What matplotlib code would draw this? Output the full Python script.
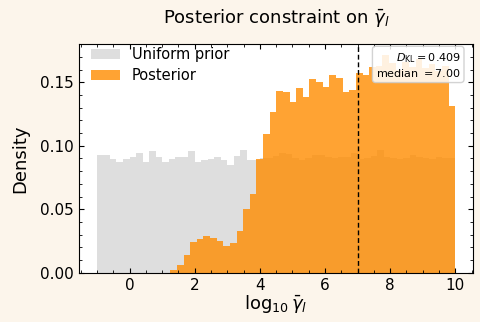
import numpy as np
import matplotlib
matplotlib.use("Agg")
import matplotlib.pyplot as plt
from matplotlib.ticker import MultipleLocator, AutoMinorLocator

# Histogram bin ranges (log10 gamma_l)
prior_range = (-1.0, 10.0)
prior_nbins = 55
post_range = (1.25, 10.0)
post_nbins = 43

# Uniform prior density per bin
prior_density = [
    0.0927, 0.0927, 0.0893, 0.0870, 0.0893, 0.0913, 0.0945, 0.0874, 0.0958, 0.0913,
    0.0874, 0.0893, 0.0913, 0.0910, 0.0960, 0.0874, 0.0890, 0.0895, 0.0913, 0.0890,
    0.0850, 0.0920, 0.0970, 0.0890, 0.0890, 0.0900, 0.0905, 0.0920, 0.0940, 0.0935,
    0.0905, 0.0890, 0.0905, 0.0930, 0.0925, 0.0910, 0.0905, 0.0910, 0.0915, 0.0940,
    0.0895, 0.0905, 0.0920, 0.0970, 0.0915, 0.0905, 0.0895, 0.0905, 0.0930, 0.0915,
    0.0905, 0.0895, 0.0910, 0.0905, 0.0900,
]

# Posterior density per bin
post_density = [
    0.0020, 0.0060, 0.0140, 0.0244, 0.0265, 0.0289, 0.0270, 0.0250, 0.0213, 0.0231,
    0.0330, 0.0500, 0.0617, 0.0893, 0.1090, 0.1268, 0.1430, 0.1425, 0.1347, 0.1457,
    0.1380, 0.1525, 0.1500, 0.1465, 0.1560, 0.1530, 0.1425, 0.1440, 0.1570, 0.1557,
    0.1620, 0.1630, 0.1715, 0.1650, 0.1600, 0.1660, 0.1620, 0.1680, 0.1610, 0.1640,
    0.1590, 0.1630, 0.1315,
]

d_kl = 0.409
median = 7.00

prior_edges = np.linspace(prior_range[0], prior_range[1], prior_nbins + 1)
post_edges = np.linspace(post_range[0], post_range[1], post_nbins + 1)

fig = plt.figure(figsize=(4.8, 3.22), dpi=100, facecolor="#fcf5eb")
ax = fig.add_axes([0.1646, 0.153, 0.8214, 0.71])
ax.set_facecolor("white")

ax.hist(prior_edges[:-1], bins=prior_edges, weights=prior_density,
        histtype="stepfilled", color="#dedede", label="Uniform prior")
ax.hist(post_edges[:-1], bins=post_edges, weights=post_density,
        histtype="stepfilled", color="darkorange", alpha=0.8, label="Posterior")

ax.axvline(median, color="black", linestyle=(0, (3.5, 2)), linewidth=1.0)

ax.text(0.968, 0.968, "$D_{\\rm KL} = %.3f$\nmedian $= %.2f$" % (d_kl, median),
        transform=ax.transAxes, ha="right", va="top", multialignment="right",
        fontsize=8,
        bbox=dict(boxstyle="round", facecolor="white", edgecolor="0.8", alpha=0.85))

ax.set_xlim(-1.55, 10.55)
ax.set_ylim(0, 0.18)
ax.xaxis.set_major_locator(MultipleLocator(2))
ax.xaxis.set_minor_locator(AutoMinorLocator(4))
ax.yaxis.set_major_locator(MultipleLocator(0.05))
ax.yaxis.set_minor_locator(AutoMinorLocator(5))
ax.tick_params(which="both", direction="in", top=True, right=True, labelsize=11)

ax.set_title("Posterior constraint on $\\bar{\\gamma}_l$", fontsize=13, pad=15)
ax.set_xlabel("$\\log_{10}\\bar{\\gamma}_l$", fontsize=13, labelpad=0)
ax.set_ylabel("Density", fontsize=13, labelpad=8)

ax.legend(loc="upper left", bbox_to_anchor=(0.03, 0.986), frameon=False,
          fontsize=10.5, borderaxespad=0.0, borderpad=0.0, labelspacing=0.4)

fig.savefig("out.png", dpi=100, facecolor=fig.get_facecolor())
